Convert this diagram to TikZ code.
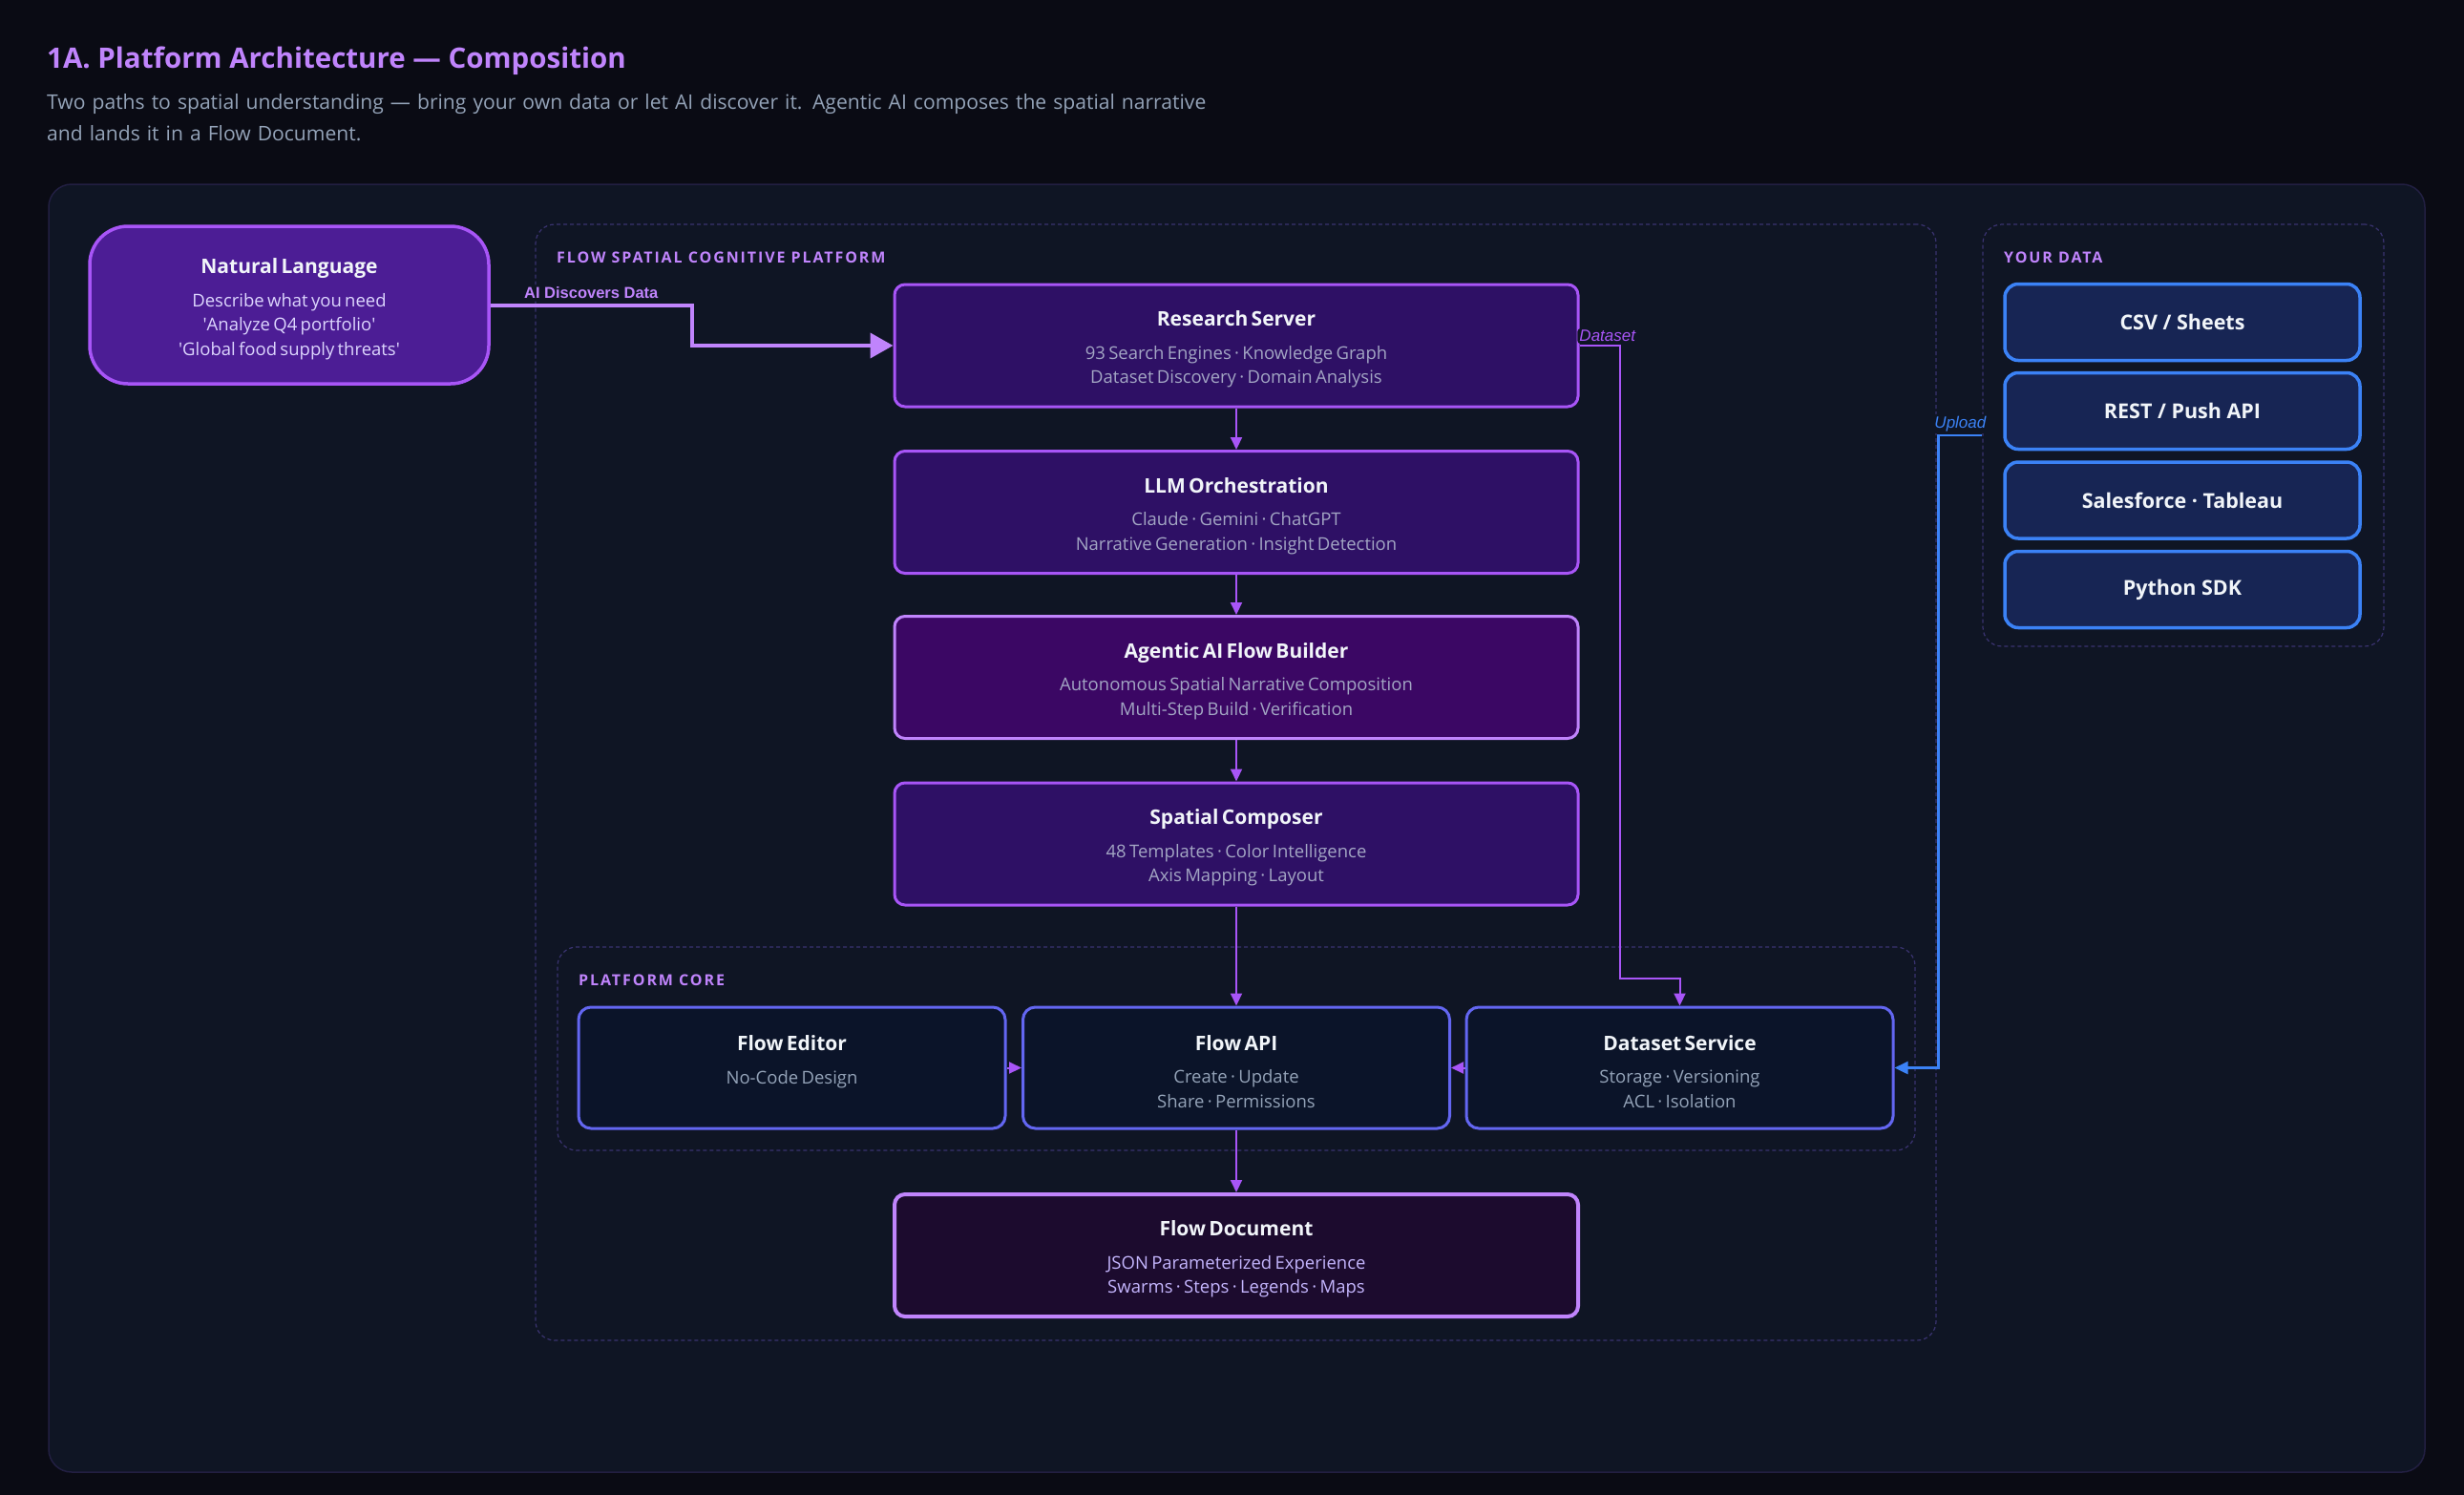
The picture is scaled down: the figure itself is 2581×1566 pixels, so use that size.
\documentclass[tikz,border=0pt]{standalone}
\usepackage{fontspec}
\setmainfont{Open Sans}
\newfontfamily\edgefont{Liberation Sans}
\usetikzlibrary{arrows.meta}

\definecolor{pagebg}{HTML}{0A0B14}
\definecolor{panelbg}{HTML}{0F1524}
\definecolor{paneledge}{HTML}{221F42}
\definecolor{headcol}{HTML}{C084FC}
\definecolor{leadcol}{HTML}{94A3B8}
\definecolor{nlfill}{HTML}{4C1D95}
\definecolor{flowviolet}{HTML}{A855F7}
\definecolor{stagefill}{HTML}{2E1065}
\definecolor{agentfill}{HTML}{3B0764}
\definecolor{docfill}{HTML}{1C0B2E}
\definecolor{corefill}{HTML}{0B1429}
\definecolor{coreedge}{HTML}{6366F1}
\definecolor{srcfill}{HTML}{172554}
\definecolor{srcedge}{HTML}{3B82F6}
\definecolor{groupedge}{HTML}{3A3370}
\definecolor{titletext}{HTML}{F1F5F9}
\definecolor{stagetext}{HTML}{A3A6C4}
\definecolor{coretext}{HTML}{94A3B8}
\definecolor{nltext}{HTML}{DDD6FE}
\definecolor{doctext}{HTML}{C4B5FD}

\newcommand{\titlefont}{\fontsize{29.5}{36}\selectfont\bfseries}
\newcommand{\leadfont}{\fontsize{21.1}{33}\selectfont}
\newcommand{\headfont}{\fontsize{21}{25}\selectfont\bfseries}
\newcommand{\bodyfont}{\fontsize{18.5}{25.5}\selectfont\mdseries}
\newcommand{\labelfont}{\fontsize{16}{19}\selectfont\bfseries\addfontfeature{LetterSpace=12}}
\newcommand{\boxtext}[3]{\headfont\rule{0pt}{24pt}#1\\[9pt]\bodyfont\color{#2}#3\par}

\tikzstyle{panel}=[draw=paneledge, fill=panelbg, line width=1.5pt, rounded corners=24pt]
\tikzstyle{group}=[draw=groupedge, dash pattern=on 4pt off 3pt, line width=1.2pt, rounded corners=20pt, inner sep=0pt]
\tikzstyle{grouplabel}=[anchor=west, inner sep=0pt, text=headcol, font=\labelfont]
\tikzstyle{stage}=[draw=flowviolet, line width=3pt, rounded corners=11pt, minimum width=716pt, minimum height=128pt, text width=690pt, align=center, inner sep=0pt, text=titletext]
\tikzstyle{core}=[draw=coreedge, fill=corefill, line width=3pt, rounded corners=13pt, minimum width=447pt, minimum height=127pt, text width=420pt, align=center, inner sep=0pt, text=titletext]
\tikzstyle{source}=[draw=srcedge, fill=srcfill, line width=3.5pt, rounded corners=14pt, minimum width=372pt, minimum height=80pt, inner sep=0pt, text=titletext, font=\headfont\fontsize{21.5}{25}\selectfont]
\tikzstyle{link}=[draw=flowviolet, line width=2pt, -{Triangle[length=13pt,width=12pt]}]
\tikzstyle{upload}=[draw=srcedge, line width=2.5pt, -{Triangle[length=14pt,width=13pt]}]
\tikzstyle{discover}=[draw=headcol, line width=4pt, -{Triangle[length=24pt,width=26pt]}]
\tikzstyle{edgelabel}=[fill=panelbg, rounded corners=3pt, inner sep=2pt]

\begin{document}
\begin{tikzpicture}[x=1pt, y=-1pt]
    % Page, heading and the big panel
    \fill[pagebg] (0,0) rectangle (2581,1566);
    \node[anchor=base west, inner sep=0pt, text=headcol, font=\titlefont] (title) at (49,71) {1A. Platform Architecture — Composition};
    \node[anchor=north west, inner sep=0pt, text=leadcol, font=\leadfont, text width=1400pt, align=left] (lead) at (49,98)
        {Two paths to spatial understanding — bring your own data or let AI discover it. Agentic AI composes the spatial narrative\\and lands it in a Flow Document.\par};
    \path[panel] (51,193) rectangle (2540,1542);

    % Dashed groups and their labels
    \node[group, minimum width=1467pt, minimum height=1169pt] (platform) at (1294.5,819.5) {};
    \node[group, minimum width=1422pt, minimum height=213pt] (coregroup) at (1295,1098.5) {};
    \node[group, minimum width=420pt, minimum height=442pt] (datagroup) at (2287,456) {};
    \node[grouplabel] (platformlabel) at (583,270) {FLOW SPATIAL COGNITIVE PLATFORM};
    \node[grouplabel] (corelabel) at (606,1027) {PLATFORM CORE};
    \node[grouplabel] (datalabel) at (2099,270) {YOUR DATA};

    % First we draw the vertices
    \node[stage, draw=flowviolet, fill=nlfill, line width=3.5pt, rounded corners=40pt, minimum width=418pt, minimum height=165pt, text width=400pt] (nl) at (303,319.5)
        {\boxtext{Natural Language}{nltext}{Describe what you need\\\textquotesingle Analyze Q4 portfolio\textquotesingle\\\textquotesingle Global food supply threats\textquotesingle}};
    \foreach \ypos/\name/\shade/\rim/\head/\body in {
        362/research/stagefill/flowviolet/Research Server/{93 Search Engines · Knowledge Graph\\Dataset Discovery · Domain Analysis},
        536.5/llm/stagefill/flowviolet/LLM Orchestration/{Claude · Gemini · ChatGPT\\Narrative Generation · Insight Detection},
        709.5/agentic/agentfill/headcol/Agentic AI Flow Builder/{Autonomous Spatial Narrative Composition\\Multi-Step Build · Verification},
        884/composer/stagefill/flowviolet/Spatial Composer/{48 Templates · Color Intelligence\\Axis Mapping · Layout}}
        \node[stage, fill=\shade, draw=\rim] (\name) at (1295,\ypos) {\boxtext{\head}{stagetext}{\body}};
    \foreach \xpos/\name/\head/\body in {
        829.5/editor/Flow Editor/{No-Code Design\\\mbox{}},
        1295/api/Flow API/{Create · Update\\Share · Permissions},
        1759.5/dataset/Dataset Service/{Storage · Versioning\\ACL · Isolation}}
        \node[core] (\name) at (\xpos,1118.5) {\boxtext{\head}{coretext}{\body}};
    \node[stage, draw=headcol, fill=docfill, line width=4pt] (document) at (1295,1315)
        {\boxtext{Flow Document}{doctext}{JSON Parameterized Experience\\Swarms · Steps · Legends · Maps}};
    \foreach \ypos/\name/\head in {337.5/csv/{CSV / Sheets}, 430.5/rest/{REST / Push API}, 524/crm/{Salesforce · Tableau}, 617.5/sdk/{Python SDK}}
        \node[source] (\name) at (2286,\ypos) {\head};

    % Connect vertices with edges
    \path[discover] (nl.east) -- node[edgelabel, above=3pt, text=headcol, font=\edgefont\bfseries\fontsize{16.5}{18}\selectfont] {AI Discovers Data} ++(211,0) |- (research.west);
    \foreach \source/\dest in {research/llm, llm/agentic, agentic/composer, composer/api, api/document, editor/api, dataset/api}
        \path[link] (\source) -- (\dest);
    \coordinate (dsturn) at (1697,1025);
    \path[link] (research.east) -| node[pos=0.25, edgelabel, above=1pt, xshift=8pt, text=flowviolet, font=\edgefont\itshape\fontsize{17}{19}\selectfont] {Dataset} (dsturn) -| (dataset.north);
    \path[upload] (datagroup.west) -- node[edgelabel, above=1pt, text=srcedge, font=\edgefont\itshape\fontsize{17}{19}\selectfont] {Upload} ++(-46,0) |- (dataset.east);
\end{tikzpicture}
\end{document}
